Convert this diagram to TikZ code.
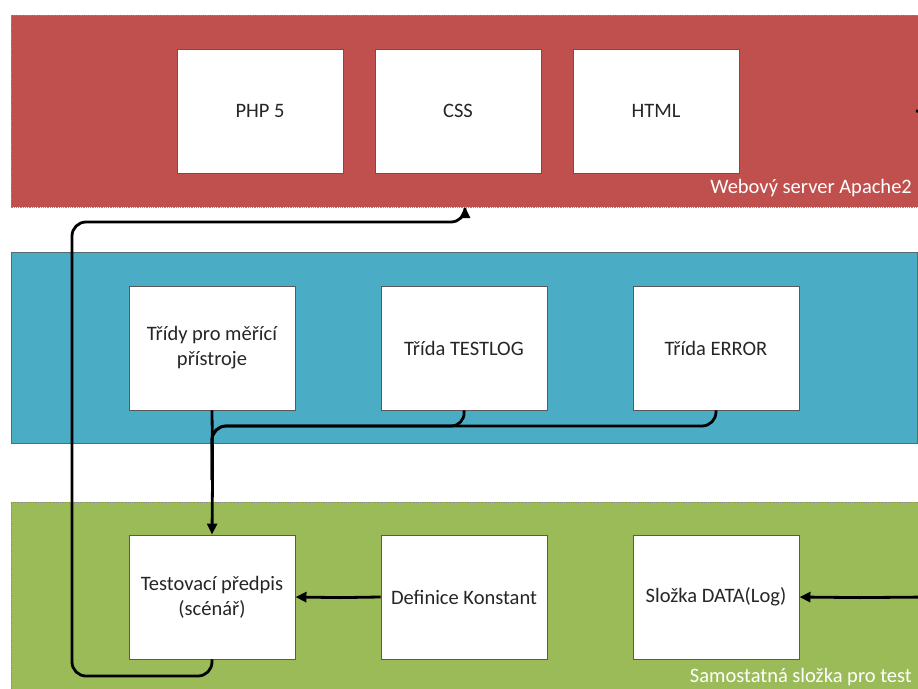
\documentclass[tikz,border=0pt]{standalone}
\usepackage{fontspec}
\setmainfont{Carlito}
\usetikzlibrary{arrows.meta}
\definecolor{bandred}{HTML}{C0504D}
\definecolor{bandblue}{HTML}{4BACC6}
\definecolor{bandgreen}{HTML}{9BBB59}
\definecolor{bordergray}{HTML}{595959}
\begin{document}
\begin{tikzpicture}[x=1pt,y=-1pt,
  band/.style={draw=bordergray!70, line width=0.8pt},
  dotband/.style={band, densely dotted},
  box/.style={draw=bordergray, line width=0.9pt, fill=white, minimum width=166pt, minimum height=124pt, inner sep=0pt, align=center, font=\fontsize{20.5}{25}\selectfont, text=black!85},
  conn/.style={line width=2.8pt, rounded corners=14pt},
  arr/.style={conn, -{Triangle[length=11pt,width=10pt]}},
  bandlabel/.style={anchor=east, text=white, font=\fontsize{20.5}{24}\selectfont, inner sep=0pt}
]
\useasboundingbox (0,0) rectangle (918,688);
\path[clip] (0,0) rectangle (918,688);
% bands
\fill[bandred] (11,15) rectangle (930,207);
\draw[dotband] (930,15) -- (11,15) -- (11,207) -- (930,207);
\fill[bandblue] (11,252) rectangle (917,443);
\draw[band, draw=bordergray!80!bandblue] (11,252) rectangle (917,443);
\fill[bandgreen] (11,502) rectangle (930,700);
\draw[dotband] (930,502) -- (11,502) -- (11,700);
\node[bandlabel] (lred) at (912,188) {Webový server Apache2};
\node[bandlabel] (lgreen) at (912,677) {Samostatná složka pro test};
% boxes
\node[box] (php) at (260,111) {PHP 5};
\node[box] (css) at (458,111) {CSS};
\node[box] (html) at (656,111) {HTML};
\node[box] (tridy) at (212,348) {Třídy pro měřící\\přístroje};
\node[box] (testlog) at (464,348) {Třída TESTLOG};
\node[box] (error) at (716,348) {Třída ERROR};
\node[box] (test) at (212,597) {Testovací předpis\\(scénář)};
\node[box] (def) at (464,597) {Definice Konstant};
\node[box] (data) at (716,597) {Složka DATA(Log)};
\coordinate (cssin) at (465,207);
\coordinate (rightin) at (930,597);
\coordinate (rightstub) at (930,111);
% connectors
\draw[arr] (test.south) -- (212,676) -- (72,676) -- (72,222) -- (465,222) -- (cssin);
\draw[arr, rounded corners=0pt] (tridy.south) -- (212.6,470) -- (test.north);
\draw[conn] (testlog.south) -- (465,426) -- (212,426) -- (212,480);
\draw[conn] (error.south) -- (716,426) -- (212,426) -- (212,480);
\draw[arr, rounded corners=0pt] (def.west) -- (340,597.6) -- (test.east);
\draw[arr, rounded corners=0pt] (rightin) -- (860,597.6) -- (data.east);
\draw[conn, rounded corners=0pt] (rightstub) -- (922,111.6) -- (916,111);
\end{tikzpicture}
\end{document}
